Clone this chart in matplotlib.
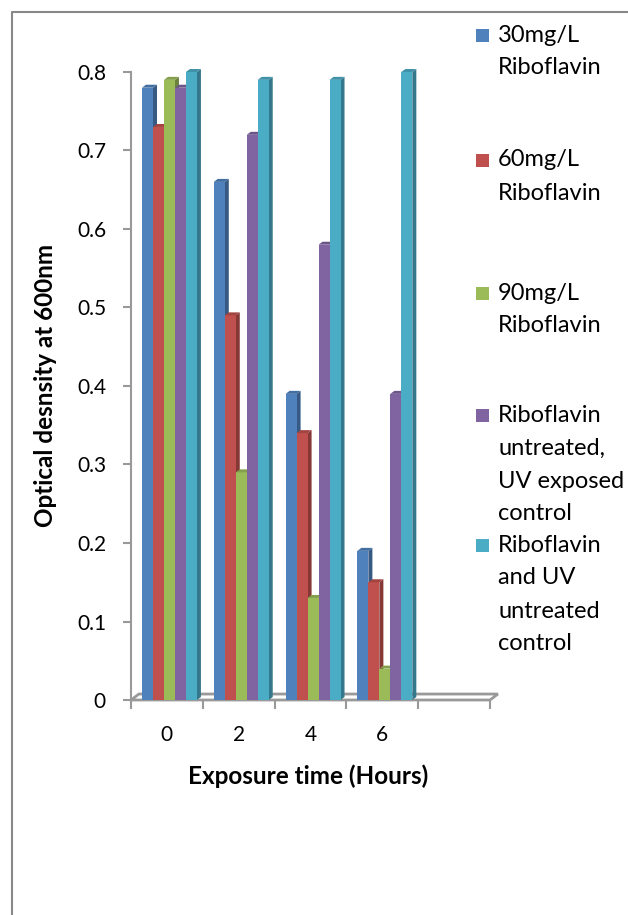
import numpy as np
import matplotlib.pyplot as plt
from matplotlib.patches import Polygon, Rectangle
from matplotlib.lines import Line2D
from matplotlib.colors import to_rgb

plt.rcParams['font.family'] = ['Lato', 'DejaVu Sans']

# data
hours = ["0", "2", "4", "6", ""]
series = ["30mg/L\nRiboflavin", "60mg/L\nRiboflavin", "90mg/L\nRiboflavin",
          "Riboflavin\nuntreated,\nUV exposed\ncontrol",
          "Riboflavin\nand UV\nuntreated\ncontrol"]
od_30 = [0.78, 0.66, 0.39, 0.19]
od_60 = [0.73, 0.49, 0.34, 0.15]
od_90 = [0.79, 0.29, 0.13, 0.04]
od_uv_ctrl = [0.78, 0.72, 0.58, 0.39]
od_ctrl = [0.80, 0.79, 0.79, 0.80]
colors = ["#4F81BD", "#C0504D", "#9BBB59", "#8064A2", "#4BACC6"]

values = [od_30, od_60, od_90, od_uv_ctrl, od_ctrl]


def shade(c, f):
    r, g, b = to_rgb(c)
    return (r * f, g * f, b * f)


W, H = 628, 915
fig = plt.figure(figsize=(W / 100, H / 100), dpi=100)
ax = fig.add_axes([131 / W, 1 - 700 / H, 359 / W, 628 / H])
ax.set_xlim(-0.5, 4.5)
ax.set_ylim(0, 0.8)

bw = 0.153
dx, dy = 0.056, 0.0038      # depth of the bar boxes
fdx, fdy = 0.11, 0.0076     # depth of the floor

# floor
floor = Polygon([(-0.5, 0), (4.5, 0), (4.5 + fdx, fdy), (-0.5 + fdx, fdy)],
                closed=True, facecolor="white", edgecolor="#999999",
                lw=2, zorder=1, clip_on=False)
ax.add_patch(floor)

for j, (vals, col) in enumerate(zip(values, colors)):
    x = np.arange(len(vals)) - 0.347 + bw * j
    ax.bar(x, vals, width=bw, align="edge", color=col, zorder=3 + 2 * j,
           clip_on=False)
    for xl, h in zip(x, vals):
        xr = xl + bw
        side = Polygon([(xr, 0), (xr + dx, dy), (xr + dx, h + dy), (xr, h)],
                       facecolor=shade(col, 0.7), edgecolor="none",
                       zorder=2 + 2 * j, clip_on=False)
        top = Polygon([(xl, h), (xl + dx, h + dy), (xr + dx, h + dy), (xr, h)],
                      facecolor=shade(col, 0.85), edgecolor="none",
                      zorder=3 + 2 * j, clip_on=False)
        ax.add_patch(side)
        ax.add_patch(top)

for s in ["top", "right", "bottom"]:
    ax.spines[s].set_visible(False)
ax.spines["left"].set_color("#999999")
ax.spines["left"].set_linewidth(1.5)
ax.spines["left"].set_zorder(2)

ax.set_yticks(np.arange(0, 0.81, 0.1))
ax.set_yticklabels(["0"] + ["%.1f" % v for v in np.arange(0.1, 0.81, 0.1)])
ax.tick_params(axis="y", length=6, width=1.5, color="#999999", pad=12,
               labelsize=15)

ax.set_xticks(np.arange(len(hours)))
ax.set_xticklabels(hours)
ax.set_xticks(np.arange(-0.5, len(hours)), minor=True)
ax.tick_params(axis="x", which="major", length=0, pad=18, labelsize=15)
ax.tick_params(axis="x", which="minor", length=6.5, width=1.5,
               color="#999999")

ax.set_ylabel("Optical desnsity at 600nm", fontsize=17.5, fontweight="bold",
              va="center")
ax.set_xlabel("Exposure time (Hours)", fontsize=17.5, fontweight="bold",
              va="center")
ax.yaxis.set_label_coords((46 - 131) / 359, (700 - 385) / 628)
ax.xaxis.set_label_coords((308 - 131) / 359, (700 - 776) / 628)

# legend drawn entry by entry
entry_top = [35, 160, 293, 415, 545]
for name, col, y0 in zip(series, colors, entry_top):
    fig.add_artist(Rectangle((476 / W, 1 - (y0 + 6.5) / H), 13 / W, 13 / H,
                             facecolor=col, edgecolor="none"))
    for k, line in enumerate(name.split("\n")):
        fig.text(498 / W, 1 - (y0 + 33 * k) / H, line, fontsize=17,
                 va="center", ha="left")

# outer chart frame
fig.add_artist(Line2D([11.5 / W, 11.5 / W, 1], [0, 1 - 12 / H, 1 - 12 / H],
                      color="#888888", lw=1.5))

fig.savefig("out.png", dpi=100)
